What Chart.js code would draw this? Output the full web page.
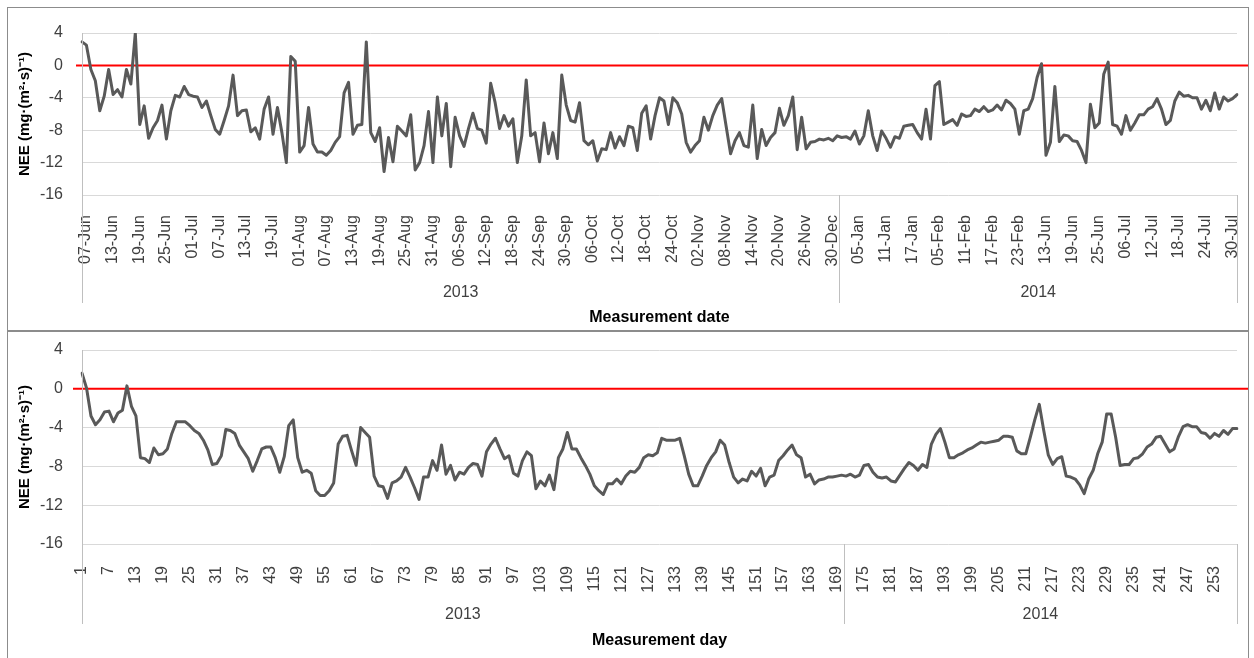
<!DOCTYPE html>
<html>
<head>
<meta charset="utf-8">
<title>NEE</title>
<script src="https://cdn.jsdelivr.net/npm/chart.js@4.4.1/dist/chart.umd.min.js"></script>
<style>
  body { margin: 0; background: #fff; width: 1254px; height: 658px; overflow: hidden; position: relative; }
  .panel { position: absolute; left: 7px; width: 1240px; border: 1px solid #8c8c8c; }
  #panelTop { top: 7px; height: 322px; }
  #panelBottom { top: 331px; height: 326px; }
  .panel div { position: relative; width: 100%; height: 100%; }
</style>
</head>
<body>
<div class="panel" id="panelTop"><div><canvas id="topChart"></canvas></div></div>
<div class="panel" id="panelBottom"><div><canvas id="bottomChart"></canvas></div></div>
<script>
// --- data ---
const yearLabels = ['2013', '2014'];

// measurement dates, one tick label every 6th measurement
const dateTicks = ['07-Jun','13-Jun','19-Jun','25-Jun','01-Jul','07-Jul','13-Jul','19-Jul','01-Aug','07-Aug',
  '13-Aug','19-Aug','25-Aug','31-Aug','06-Sep','12-Sep','18-Sep','24-Sep','30-Sep','06-Oct',
  '12-Oct','18-Oct','24-Oct','02-Nov','08-Nov','14-Nov','20-Nov','26-Nov','30-Dec','05-Jan',
  '11-Jan','17-Jan','05-Feb','11-Feb','17-Feb','23-Feb','13-Jun','19-Jun','25-Jun','06-Jul',
  '12-Jul','18-Jul','24-Jul','30-Jul'];
const dateYearCounts = [171, 90];

// NEE per measurement date (top panel)
const neeByDate = [
  2.9, 2.5, -0.5, -1.9, -5.6, -3.8, -0.5, -3.6, -3.0, -3.9,
  -0.5, -2.3, 4.0, -7.3, -5.0, -9.0, -7.7, -6.8, -4.9, -9.1,
  -5.6, -3.7, -3.9, -2.6, -3.6, -3.8, -3.9, -5.2, -4.4, -6.2,
  -7.9, -8.5, -6.8, -5.0, -1.2, -6.2, -5.6, -5.5, -8.2, -7.7,
  -9.1, -5.4, -3.9, -8.5, -5.2, -8.3, -12.0, 1.1, 0.5, -10.7,
  -9.9, -5.2, -9.7, -10.7, -10.7, -11.1, -10.5, -9.5, -8.8, -3.4,
  -2.1, -8.5, -7.4, -7.3, 2.9, -8.3, -9.4, -7.7, -13.1, -8.9,
  -11.9, -7.5, -8.1, -8.7, -6.1, -12.9, -12.0, -9.9, -5.7, -12.0,
  -3.9, -8.7, -4.7, -12.5, -6.4, -8.7, -10.0, -7.8, -5.9, -7.8,
  -8.0, -9.6, -2.2, -4.6, -7.8, -6.2, -7.5, -6.6, -12.0, -8.7,
  -1.8, -8.7, -8.3, -11.9, -7.1, -10.9, -8.3, -11.5, -1.2, -4.9,
  -6.8, -7.0, -4.6, -9.3, -9.8, -9.3, -11.8, -10.3, -10.4, -8.3,
  -10.2, -8.8, -9.9, -7.5, -7.7, -10.5, -5.9, -5.0, -9.1, -6.2,
  -4.0, -4.4, -7.3, -4.0, -4.6, -6.0, -9.5, -10.7, -9.9, -9.3,
  -6.4, -8.0, -6.2, -4.9, -4.1, -7.5, -10.9, -9.3, -8.3, -9.9,
  -10.1, -4.9, -11.5, -7.9, -9.9, -8.9, -8.3, -5.3, -7.4, -6.2,
  -3.9, -10.4, -6.4, -10.3, -9.5, -9.4, -9.1, -9.2, -9.0, -9.3,
  -8.7, -8.9, -8.8, -9.1, -8.1, -9.7, -8.7, -5.6, -8.7, -10.5,
  -8.1, -9.0, -10.1, -8.8, -9.0, -7.5, -7.4, -7.3, -8.3, -9.1,
  -5.4, -9.1, -2.5, -2.0, -7.3, -7.0, -6.7, -7.4, -6.0, -6.3,
  -6.2, -5.4, -5.7, -5.1, -5.7, -5.5, -4.9, -5.5, -4.3, -4.7,
  -5.4, -8.5, -5.6, -5.4, -4.1, -1.5, 0.2, -11.1, -9.5, -2.6,
  -9.4, -8.6, -8.7, -9.3, -9.4, -10.5, -12.0, -4.8, -7.7, -7.1,
  -1.1, 0.4, -7.3, -7.5, -8.5, -6.2, -8.0, -7.1, -6.1, -6.1,
  -5.4, -5.1, -4.1, -5.4, -7.3, -6.8, -4.4, -3.3, -3.8, -3.7,
  -4.0, -4.0, -5.4, -4.3, -5.6, -3.4, -5.4, -3.9, -4.4, -4.1, -3.6
];

// NEE per measurement day (bottom panel), day 1..258
const dayYearCounts = [170, 88];
const neeByDay = [
  1.6, 0.1, -2.8, -3.7, -3.2, -2.4, -2.3, -3.4, -2.5, -2.2,
  0.3, -1.8, -2.8, -7.1, -7.2, -7.6, -6.1, -6.8, -6.7, -6.2,
  -4.6, -3.4, -3.4, -3.4, -3.8, -4.3, -4.6, -5.3, -6.3, -7.8,
  -7.7, -6.9, -4.2, -4.3, -4.6, -5.8, -6.5, -7.2, -8.5, -7.4,
  -6.2, -6.0, -6.0, -7.1, -8.6, -7.0, -3.8, -3.2, -7.1, -8.6,
  -8.4, -8.7, -10.5, -11.0, -11.0, -10.5, -9.7, -5.7, -4.9, -4.8,
  -6.4, -7.9, -4.0, -4.5, -5.0, -9.0, -10.0, -10.1, -11.3, -9.7,
  -9.5, -9.1, -8.1, -9.1, -10.2, -11.4, -9.1, -9.1, -7.4, -8.4,
  -5.8, -8.8, -7.9, -9.4, -8.6, -8.8, -8.1, -7.7, -7.8, -9.0,
  -6.5, -5.7, -5.1, -6.2, -7.2, -6.9, -8.7, -9.0, -7.4, -6.5,
  -6.9, -10.3, -9.5, -10.0, -8.9, -10.4, -7.1, -6.2, -4.5, -6.2,
  -6.2, -7.1, -7.9, -8.8, -10.0, -10.5, -10.9, -9.8, -9.8, -9.3,
  -9.8, -9.0, -8.5, -8.6, -8.1, -7.1, -6.8, -6.9, -6.6, -5.1,
  -5.3, -5.3, -5.3, -5.1, -6.9, -8.8, -10.0, -10.0, -9.0, -7.9,
  -7.1, -6.5, -5.3, -5.8, -7.6, -9.1, -9.7, -9.3, -9.5, -8.5,
  -9.0, -8.2, -10.0, -9.1, -8.9, -7.4, -6.9, -6.3, -5.8, -6.8,
  -7.1, -9.1, -8.8, -9.8, -9.4, -9.3, -9.1, -9.1, -9.0, -8.9,
  -9.0, -8.8, -9.1, -8.9, -7.9, -7.8, -8.6, -9.1, -9.2, -9.1,
  -9.5, -9.6, -8.9, -8.2, -7.6, -7.9, -8.4, -7.8, -8.1, -5.7,
  -4.7, -4.1, -5.5, -7.1, -7.1, -6.8, -6.6, -6.3, -6.1, -5.8,
  -5.5, -5.6, -5.5, -5.4, -5.3, -4.9, -4.9, -5.0, -6.4, -6.7,
  -6.7, -5.0, -3.2, -1.6, -4.3, -6.8, -7.8, -7.2, -7.0, -9.0,
  -9.1, -9.3, -9.9, -10.8, -9.3, -8.4, -6.7, -5.5, -2.6, -2.6,
  -5.0, -7.9, -7.8, -7.8, -7.2, -7.1, -6.7, -6.0, -5.7, -5.0,
  -4.9, -5.7, -6.5, -6.2, -4.9, -3.9, -3.7, -3.9, -3.9, -4.5,
  -4.6, -5.1, -4.6, -4.9, -4.3, -4.7, -4.1, -4.1
];

const yTicks = [-16, -12, -8, -4, 0, 4];
const TICK_EVERY = 6;

// --- helpers ---
Chart.defaults.font.family = "'Liberation Sans', Arial, sans-serif";
Chart.defaults.color = '#404040';

const textColor = '#404040';
const yTitle = 'NEE (mg\u00b7(m\u00b2\u00b7s)\u207b\u00b9)';

// red zero line, axis line that runs down through the labels, year groups
const panelDecor = {
  id: 'panelDecor',
  beforeDatasetsDraw(chart, args, opts) {
    const { ctx, chartArea } = chart;
    const y0 = chart.scales.y.getPixelForValue(0);
    ctx.save();
    ctx.strokeStyle = '#ff0000';
    ctx.lineWidth = 2;
    ctx.beginPath();
    ctx.moveTo(chartArea.left - opts.zeroStart, y0);
    ctx.lineTo(chart.width, y0);
    ctx.stroke();
    ctx.restore();
  },
  afterDraw(chart, args, opts) {
    const { ctx, chartArea } = chart;
    const x = chart.scales.x;
    const depth = chartArea.bottom + opts.groupDepth;

    const edges = [chartArea.left];
    let n = 0;
    opts.counts.forEach((c, i) => {
      n += c;
      edges.push(i === opts.counts.length - 1 ? chartArea.right : x.getPixelForValue(n - 0.5));
    });

    ctx.save();
    ctx.strokeStyle = '#bfbfbf';
    ctx.lineWidth = 1;
    edges.forEach((px, i) => {
      const xx = Math.round(px) + 0.5;
      ctx.beginPath();
      ctx.moveTo(xx, i === 0 ? chartArea.top : chartArea.bottom);
      ctx.lineTo(xx, depth);
      ctx.stroke();
    });

    ctx.fillStyle = textColor;
    ctx.font = "16px 'Liberation Sans', Arial, sans-serif";
    ctx.textAlign = 'center';
    ctx.textBaseline = 'middle';
    yearLabels.forEach((lab, i) => {
      ctx.fillText(lab, (edges[i] + edges[i + 1]) / 2, chartArea.bottom + opts.labelOffset);
    });
    ctx.restore();
  }
};

function makeChart(canvasId, labels, values, cfg) {
  return new Chart(document.getElementById(canvasId), {
    type: 'line',
    data: {
      labels: labels,
      datasets: [{
        data: values,
        borderColor: '#595959',
        borderWidth: 3,
        pointRadius: 0,
        tension: 0,
        borderJoinStyle: 'round',
        borderCapStyle: 'round'
      }]
    },
    options: {
      responsive: true,
      maintainAspectRatio: false,
      animation: false,
      events: [],
      layout: { padding: { top: cfg.padTop, right: 11, bottom: 0, left: 0 } },
      plugins: {
        legend: { display: false },
        tooltip: { enabled: false },
        panelDecor: {
          counts: cfg.counts, groupDepth: cfg.groupDepth,
          labelOffset: cfg.labelOffset, zeroStart: cfg.zeroStart
        }
      },
      scales: {
        x: {
          type: 'category',
          grid: { display: false },
          border: { display: false },
          ticks: {
            autoSkip: false,
            minRotation: 90,
            maxRotation: 90,
            padding: cfg.tickPad,
            labelOffset: cfg.tickShift,
            color: textColor,
            font: { size: 16 },
            callback: function (v, i) { return i % TICK_EVERY === 0 ? this.getLabelForValue(v) : ''; }
          },
          title: {
            display: true,
            text: cfg.xTitle,
            color: '#000',
            font: { size: 16, weight: 'bold' },
            padding: { top: 0, bottom: cfg.titlePad }
          },
          afterFit: s => { s.height = cfg.xHeight; s.paddingLeft = 0; s.paddingRight = 0; }
        },
        y: {
          min: -16,
          max: 4,
          afterBuildTicks: s => { s.ticks = yTicks.map(v => ({ value: v })); },
          grid: { color: '#d9d9d9', lineWidth: 1, drawTicks: false },
          border: { display: false },
          ticks: { padding: 19, color: textColor, font: { size: 16 } },
          title: {
            display: true,
            text: yTitle,
            color: '#000',
            font: { size: 15, weight: 'bold' },
            padding: { top: 8, bottom: 0 }
          },
          afterFit: s => { s.width = 74; s.paddingTop = 0; s.paddingBottom = 0; }
        }
      }
    },
    plugins: [panelDecor]
  });
}

// top: by measurement date
const dateLabels = neeByDate.map((_, i) => i % TICK_EVERY === 0 ? dateTicks[i / TICK_EVERY] : '');
makeChart('topChart', dateLabels, neeByDate, {
  padTop: 25, xHeight: 135, tickPad: 12, tickShift: 4, titlePad: 3, zeroStart: 6,
  xTitle: 'Measurement date', counts: dateYearCounts, groupDepth: 108, labelOffset: 98
});

// bottom: by measurement day
const dayLabels = neeByDay.map((_, i) => String(i + 1));
makeChart('bottomChart', dayLabels, neeByDay, {
  padTop: 18, xHeight: 114, tickPad: 14, tickShift: 0, titlePad: 8, zeroStart: 9,
  xTitle: 'Measurement day', counts: dayYearCounts, groupDepth: 80, labelOffset: 71
});
</script>
</body>
</html>
